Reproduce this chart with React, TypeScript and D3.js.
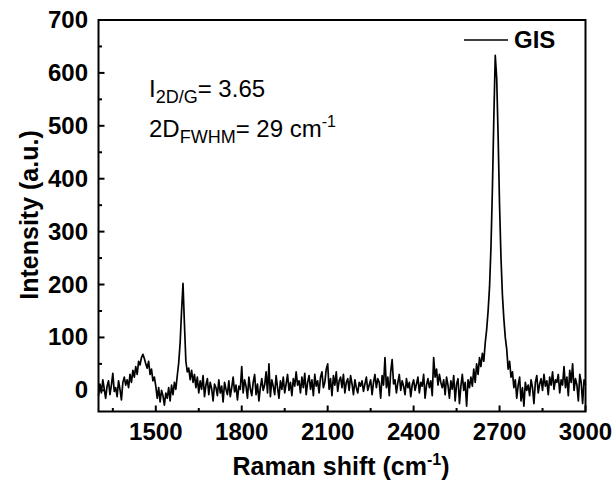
import React from "react";
import * as d3 from "d3";

// Raman spectrum, one reading every 5 cm-1 from 1300 to 3000
const shiftStart = 1300;
const shiftStep = 5;
const intensity = [
  // 1300
  -10, 12, -5, 20, 3, -15, 8, 18, -8, 10, 32, -2, 5, -12, 18, 2, -18, 15, 25, 10,
  // 1400
  20, 5, 30, 15, 38, 25, 45, 30, 55, 48, 62, 68, 60, 50, 42, 55, 30, 40, 18, 25,
  // 1500
  8, -15, 5, -22, 0, -10, -28, -5, -15, 5, -20, 10, -8, 15, 2, 28, 52, 90, 150, 202,
  // 1600
  125, 55, 35, 42, 20, 38, 15, 30, 5, 25, -5, 18, 2, 28, -12, 10, 22, -8, 15, 3,
  // 1700
  -20, 12, 5, -10, 20, -5, 8, -22, 15, 2, -8, 18, -12, 5, 25, -3, 10, -18, 8, 2,
  // 1800
  45, -5, 20, 8, -15, 25, 3, -10, 15, 30, -8, 12, -20, 5, 22, 0, 10, 35, -5, 50,
  // 1900
  -12, 20, 8, -8, 28, 5, -15, 18, 2, 25, -5, 12, 30, 0, 15, -10, 22, 8, 35, 10,
  // 2000
  18, -5, 25, 5, 32, -8, 15, 28, 2, 20, -10, 30, 8, 18, -5, 25, 35, 5, 15, 40,
  // 2100
  50, 2, 22, -10, 28, 10, 35, -2, 18, 25, 5, 30, -5, 15, 22, 0, 28, 12, -8, 20,
  // 2200
  5, -5, 15, 8, 18, -2, 12, 25, 0, 10, 20, -8, 15, 30, 5, 22, 15, -15, 28, 10,
  // 2300
  62, 5, 25, -10, 35, 58, 12, 20, -5, 15, 30, 0, 18, 8, -8, 22, 5, 15, -12, 10,
  // 2400
  20, 0, 12, 25, -5, 15, 8, 30, -15, 10, 22, 5, 18, -10, 62, 25, 40, 10, 30, 15,
  // 2500
  5, 20, -8, 25, 10, -15, 18, 2, 28, -20, 12, 22, -25, 8, 30, 0, 15, -30, 20, 5,
  // 2600
  25, 8, 40, 15, 50, 30, 62, 45, 70, 55, 90, 115, 150, 195, 270, 380, 515, 633, 590, 480,
  // 2700
  350, 250, 180, 135, 100, 78, 40, 55, 25, 35, 5, 20, -15, 10, 25, -20, 5, -30, 15, 0,
  // 2800
  10, -10, 20, 5, -25, 15, 28, -5, 12, 22, 0, 30, 8, 18, -8, 25, 10, 35, 2, 20,
  // 2900
  15, 30, -5, 20, 10, 45, 5, 25, -10, 38, 15, 50, 0, 22, 10, -20, 30, 15, -25, 20,
  // 3000
  10,
];

const xTicks = [1500, 1800, 2100, 2400, 2700, 3000];
const xMinorTicks = [1350, 1650, 1950, 2250, 2550, 2850];
const yTicks = [0, 100, 200, 300, 400, 500, 600, 700];
const yMinorTicks = [-50, 50, 150, 250, 350, 450, 550, 650];
const seriesName = "GIS";

const font = "'Liberation Sans', Arial, sans-serif";

export default function App() {
  const W = 616;
  const H = 487;
  const left = 98.5;
  const right = 585.5;
  const top = 20;
  const bottom = 411.5;

  const x = d3.scaleLinear().domain([1300, 3000]).range([left, right]);
  const y = d3.scaleLinear().domain([-40, 700]).range([bottom, top]);

  const points: [number, number][] = intensity.map((v, i) => [shiftStart + i * shiftStep, v]);
  const line = d3
    .line<[number, number]>()
    .x(d => x(d[0]))
    .y(d => y(d[1]));

  return (
    <svg
      width={W}
      height={H}
      style={{ position: "absolute", left: 0, top: 0, background: "#fff" }}
      fontFamily={font}
    >
      <rect x={0} y={0} width={W} height={H} fill="#fff" />
      {/* spectrum */}
      <path d={line(points) || ""} fill="none" stroke="#000" strokeWidth={1.7} strokeLinejoin="round" />

      {/* frame */}
      <rect
        x={left}
        y={top}
        width={right - left}
        height={bottom - top}
        fill="none"
        stroke="#000"
        strokeWidth={2}
      />

      {/* x ticks, inward */}
      {xTicks.map(t => (
        <g key={"xt" + t}>
          <line x1={x(t)} x2={x(t)} y1={bottom} y2={bottom - 6} stroke="#000" strokeWidth={2} />
          <text x={x(t)} y={440} textAnchor="middle" fontSize={24} fontWeight="bold">
            {t}
          </text>
        </g>
      ))}
      {xMinorTicks.map(t => (
        <line key={"xm" + t} x1={x(t)} x2={x(t)} y1={bottom} y2={bottom - 3.5} stroke="#000" strokeWidth={2} />
      ))}

      {/* y ticks, inward */}
      {yTicks.map(t => (
        <g key={"yt" + t}>
          <line x1={left} x2={left + 6} y1={y(t)} y2={y(t)} stroke="#000" strokeWidth={2} />
          <text x={88} y={y(t) + 8} textAnchor="end" fontSize={24} fontWeight="bold">
            {t}
          </text>
        </g>
      ))}
      {yMinorTicks
        .filter(t => y(t) < bottom)
        .map(t => (
          <line key={"ym" + t} x1={left} x2={left + 3.5} y1={y(t)} y2={y(t)} stroke="#000" strokeWidth={2} />
        ))}

      {/* axis titles */}
      <text x={341} y={475} textAnchor="middle" fontSize={25} fontWeight="bold">
        Raman shift (cm
        <tspan fontSize={16} dy={-10}>-1</tspan>
        <tspan dy={10}>)</tspan>
      </text>
      <text
        transform="translate(38,215) rotate(-90)"
        textAnchor="middle"
        fontSize={25}
        fontWeight="bold"
      >
        Intensity (a.u.)
      </text>

      {/* legend */}
      <line x1={464} x2={508} y1={40} y2={40} stroke="#000" strokeWidth={1.5} />
      <text x={514} y={48} fontSize={24} fontWeight="bold">
        {seriesName}
      </text>

      {/* annotations */}
      <text x={149} y={97} fontSize={24}>
        I<tspan fontSize={18} dy={6}>2D/G</tspan>
        <tspan dy={-6}>= 3.65</tspan>
      </text>
      <text x={149} y={137} fontSize={24}>
        2D<tspan fontSize={18} dy={6}>FWHM</tspan>
        <tspan dy={-6}>= 29 cm</tspan>
        <tspan fontSize={16} dy={-10}>-1</tspan>
      </text>
    </svg>
  );
}
